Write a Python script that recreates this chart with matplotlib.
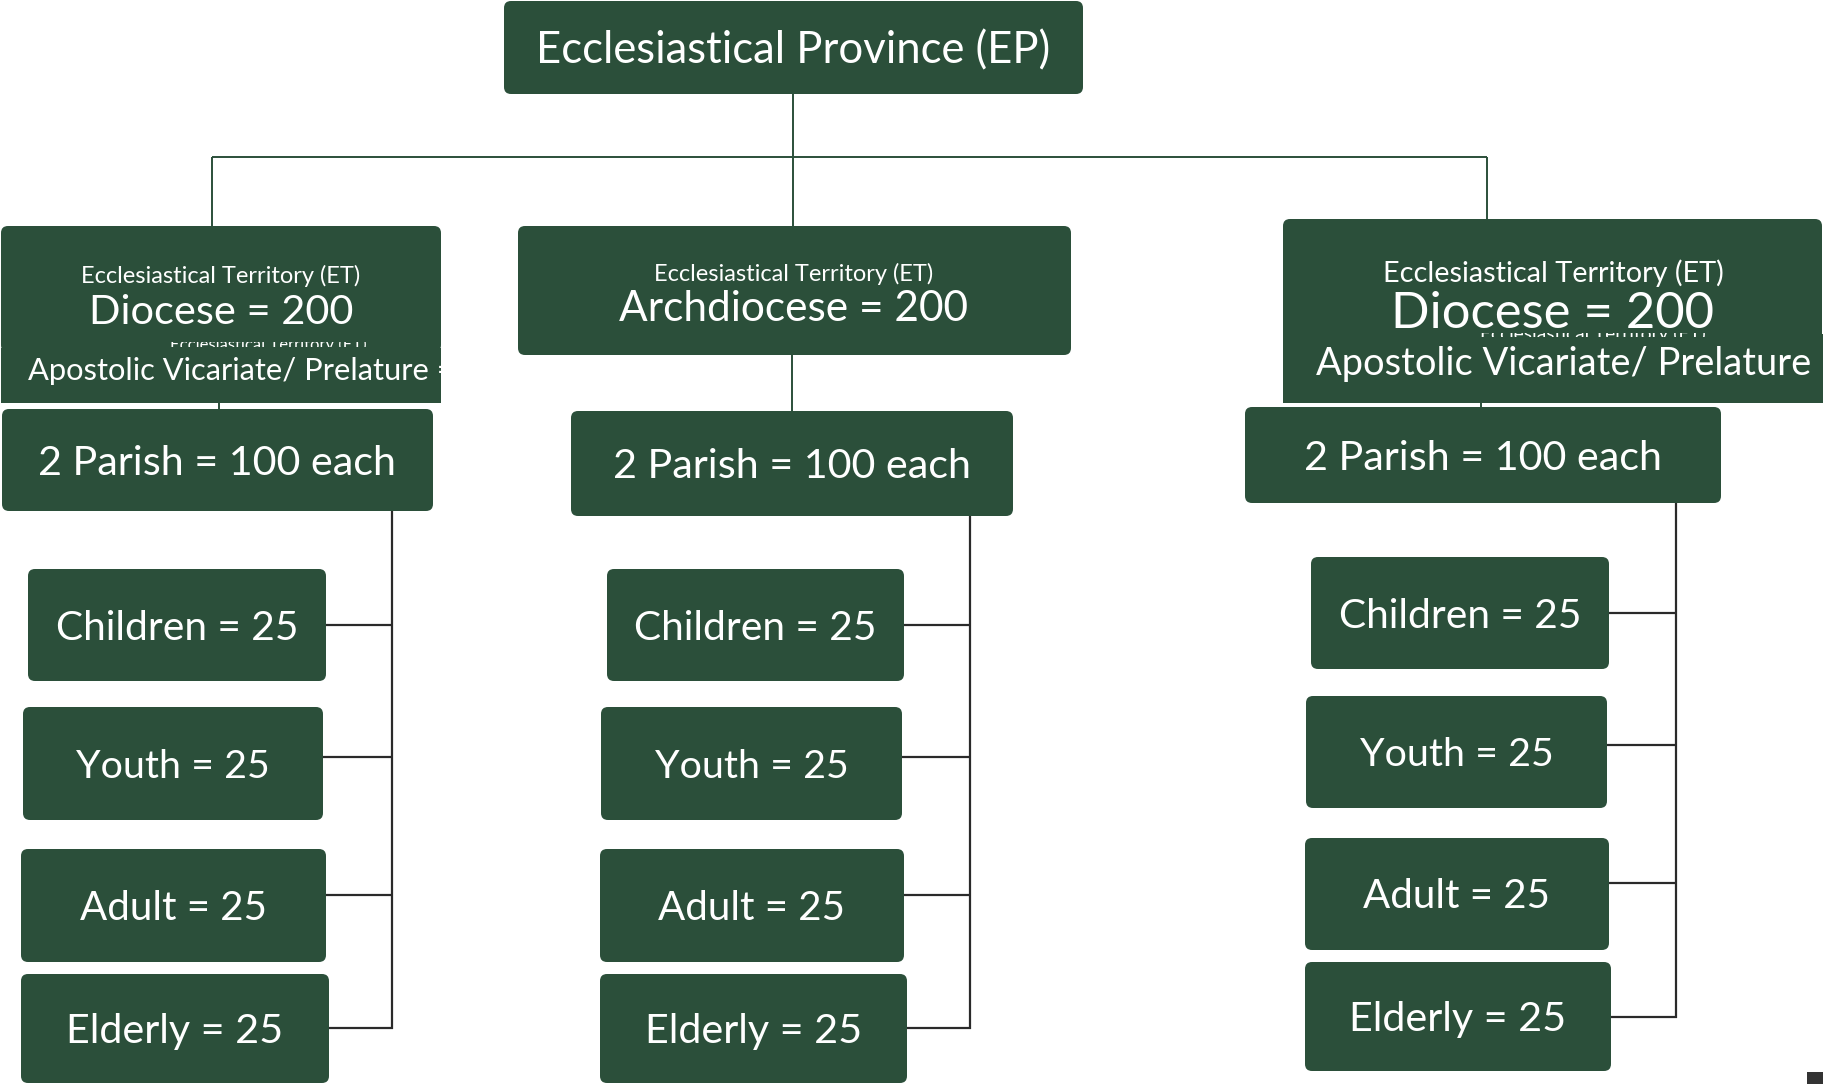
import matplotlib
matplotlib.use("Agg")
import matplotlib.pyplot as plt
from matplotlib.patches import FancyBboxPatch, Rectangle

plt.rcParams['font.family'] = ['Lato', 'DejaVu Sans']

# ---------------- data ----------------
top_label = "Ecclesiastical Province (EP)"
territory_header = ["Ecclesiastical Territory (ET)", "Ecclesiastical Territory (ET)", "Ecclesiastical Territory (ET)"]
territory_types = ["Diocese", "Archdiocese", "Diocese"]
territory_counts = [200, 200, 200]
secondary_label = "Apostolic Vicariate/ Prelature"
secondary_count = 200
parish_numbers = [2, 2, 2]
parish_each = [100, 100, 100]
groups = ["Children", "Youth", "Adult", "Elderly"]
group_counts = [25, 25, 25, 25]

# ---------------- layout (pixel coordinates, y down) ----------------
W, H = 1824, 1084
GREEN = "#2b4f3a"
LINE = "#2a2a2a"

fig = plt.figure(figsize=(W / 100, H / 100), dpi=100)
ax = fig.add_axes([0, 0, 1, 1])
ax.set_xlim(0, W)
ax.set_ylim(H, 0)
ax.axis('off')
renderer = fig.canvas.get_renderer()


def box(x0, x1, y0, y1, r=7, z=2):
    p = FancyBboxPatch((x0 + r, y0 + r), (x1 - x0) - 2 * r, (y1 - y0) - 2 * r,
                       boxstyle=f"round,pad={r},rounding_size={r}",
                       fc=GREEN, ec='none', zorder=z)
    ax.add_patch(p)
    return p


def rect(x0, x1, y0, y1, z=3, fc=GREEN):
    p = Rectangle((x0, y0), x1 - x0, y1 - y0, fc=fc, ec='none', zorder=z)
    ax.add_patch(p)
    return p


def fit_text(x, y, s, width, ha='center', va='baseline', fit_s=None, clip=None, z=5):
    t = ax.text(x, y, s, color='white', fontsize=20, ha=ha, va=va, zorder=z)
    if fit_s is not None:
        tmp = ax.text(0, 0, fit_s, fontsize=20)
        w = tmp.get_window_extent(renderer).width
        tmp.remove()
    else:
        w = t.get_window_extent(renderer).width
    t.set_fontsize(20 * width / w)
    if clip is not None:
        t.set_clip_on(True)
        t.set_clip_path(clip)
    return t


def centered_text(xc, y0, y1, s, width):
    # put cap-height centre at box centre
    t = fit_text(xc, 0, s, width)
    fs_px = t.get_fontsize() * 100 / 72
    t.set_y((y0 + y1) / 2 + 0.36 * fs_px)
    return t


def hline(x0, x1, y, c=LINE, lw=1.6):
    ax.plot([x0, x1], [y, y], color=c, lw=lw, solid_capstyle='butt', zorder=1)


def vline(x, y0, y1, c=LINE, lw=1.6):
    ax.plot([x, x], [y0, y1], color=c, lw=lw, solid_capstyle='butt', zorder=1)


# ---- top box ----
box(504, 1083, 1, 94)
centered_text(793, 1, 94, top_label, 514)

# ---- top connectors (green) ----
vline(793, 94, 226, c=GREEN, lw=1.4)
hline(212, 1487, 157, c=GREEN, lw=1.4)
vline(212, 157, 226, c=GREEN, lw=1.4)
vline(1487, 157, 219, c=GREEN, lw=1.4)

# ---- territory boxes ----
box(1, 441, 226, 352)
strip_l = rect(1, 441, 348, 403)
box(518, 1071, 226, 355)
box(1283, 1822, 219, 342)
strip_r = rect(1283, 1824, 334, 403)

terr_x = [221, 794, 1553]
head_y = [283, 281, 282]
head_w = [279, 279, 342]
main_y = [324, 321, 328]
main_w = [264, 350, 323]
for i in range(3):
    fit_text(terr_x[i], head_y[i], territory_header[i], head_w[i], z=6)
    fit_text(terr_x[i], main_y[i], f"{territory_types[i]} = {territory_counts[i]}", main_w[i], z=6)

# ghost (mostly hidden) header of the strips: only a thin sliver is visible
band_l = rect(150, 390, 342, 347, z=0, fc='none')
fit_text(268, 350, territory_header[0], 197, clip=band_l, z=6)
band_r = rect(1470, 1720, 333, 337, z=0, fc='none')
fit_text(1593, 340, territory_header[2], 227, clip=band_r, z=6)

# apostolic strip texts (clipped at box edge)
sec = f"{secondary_label} = {secondary_count}"
fit_text(28, 380, sec, 402, ha='left', fit_s=secondary_label, clip=strip_l, z=6)
fit_text(1316, 375, sec, 497, ha='left', fit_s=secondary_label, clip=strip_r, z=6)

# connectors territory -> parish
vline(219, 403, 410, c=GREEN, lw=1.4)
vline(792, 355, 411, c=GREEN, lw=1.4)
vline(1481, 403, 408, c=GREEN, lw=1.4)

# ---- parish boxes ----
parish_box = [(2, 433, 409, 511), (571, 1013, 411, 516), (1245, 1721, 407, 503)]
parish_w = [358, 358, 359]
for i, (x0, x1, y0, y1) in enumerate(parish_box):
    box(x0, x1, y0, y1)
    centered_text((x0 + x1) / 2, y0, y1, f"{parish_numbers[i]} Parish = {parish_each[i]} each", parish_w[i])

# ---- group boxes ----
group_boxes = [
    [(28, 326, 569, 681), (23, 323, 707, 820), (21, 326, 849, 962), (21, 329, 974, 1083)],
    [(607, 904, 569, 681), (601, 902, 707, 820), (600, 904, 849, 962), (600, 907, 974, 1083)],
    [(1311, 1609, 557, 669), (1306, 1607, 696, 808), (1305, 1609, 838, 950), (1305, 1611, 962, 1071)],
]
group_w = [244, 194, 187, 218]
bracket_x = [392, 970, 1676]
stub_y = [[625, 757, 895, 1028], [625, 757, 895, 1028], [613, 745, 883, 1017]]

for c in range(3):
    py1 = parish_box[c][3]
    vline(bracket_x[c], py1, stub_y[c][-1] + 0.8)
    for g in range(4):
        x0, x1, y0, y1 = group_boxes[c][g]
        box(x0, x1, y0, y1)
        centered_text((x0 + x1) / 2, y0, y1, f"{groups[g]} = {group_counts[g]}", group_w[g])
        hline(x1, bracket_x[c] + 0.8, stub_y[c][g])

# small dark square in bottom-right corner
ax.add_patch(Rectangle((1807, 1072), 17, 12, fc="#333333", ec='none', zorder=2))

fig.savefig("out.png", dpi=100)
